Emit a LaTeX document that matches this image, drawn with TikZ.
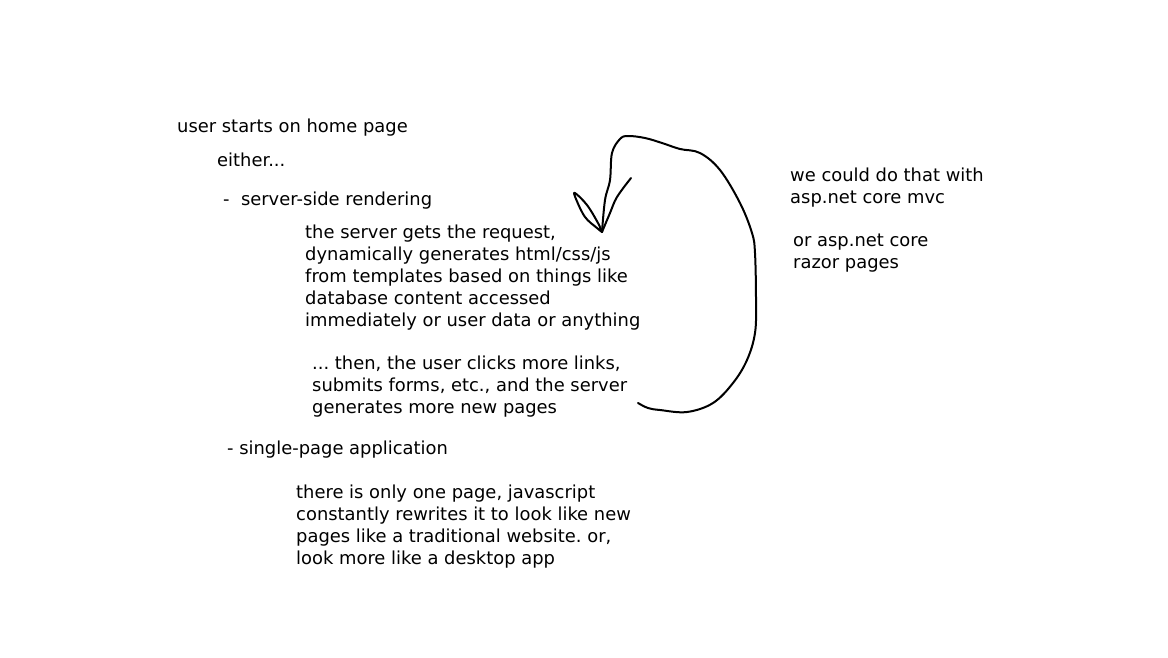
\documentclass[tikz,border=0pt]{standalone}
\usepackage{fontspec}
\setmainfont{DejaVu Sans}
\usepackage{tikz}
\usetikzlibrary{positioning}
\frenchspacing

\begin{document}
\begin{tikzpicture}[
    x=1pt, y=-1pt,
    every node/.style={font=\fontsize{17.9}{22}\selectfont, inner sep=0pt},
    note/.style={anchor=north west, align=left},
    scribble/.style={line width=2pt, line cap=round, line join=round}
]
    \useasboundingbox (0,0) rectangle (1168,657);

    % Left column
    \node[note] (start) at (177, 119) {user starts on home page};
    \node[note] (either) at (217, 153) {either...};
    \node[note] (ssr) at (223, 192) {-\ \ server-side rendering};
    \node[note] (ssrdesc) at (305, 225) {the server gets the request,\\dynamically generates html/css/js\\from templates based on things like\\database content accessed\\immediately or user data or anything};
    \node[note] (ssrloop) at (312, 356) {... then, the user clicks more links,\\submits forms, etc., and the server\\generates more new pages};
    \node[note] (spa) at (227, 441) {- single-page application};
    \node[note] (spadesc) at (296, 485) {there is only one page, javascript\\constantly rewrites it to look like new\\pages like a traditional website. or,\\look more like a desktop app};

    % Right column
    \node[note] (mvc) at (790, 168) {we could do that with\\asp.net core mvc};
    \node[note] (razor) at (793, 234) {or asp.net core\\razor pages};

    % Hand-drawn loop back
    \draw[scribble] plot[smooth, tension=0.6] coordinates {
        (638,403) (648,408) (660,410) (687,412) (713,403) (733,383)
        (747,360) (755,333) (756,300) (755,253) (752,233) (740,203)
        (720,170) (700,153) (680,149) (662,143) (645,138) (628,136)
        (620,139) (612,153) (610,180) (605,200) (602,232)};
    \draw[scribble] plot[smooth, tension=0.6] coordinates {
        (631,178) (617,197) (610,213) (602,232)};
    \draw[scribble] plot[smooth, tension=0.6] coordinates {
        (602,232) (597,228) (585,217) (576,199) (575,193)
        (587,205) (598,223) (602,232)};
\end{tikzpicture}
\end{document}
